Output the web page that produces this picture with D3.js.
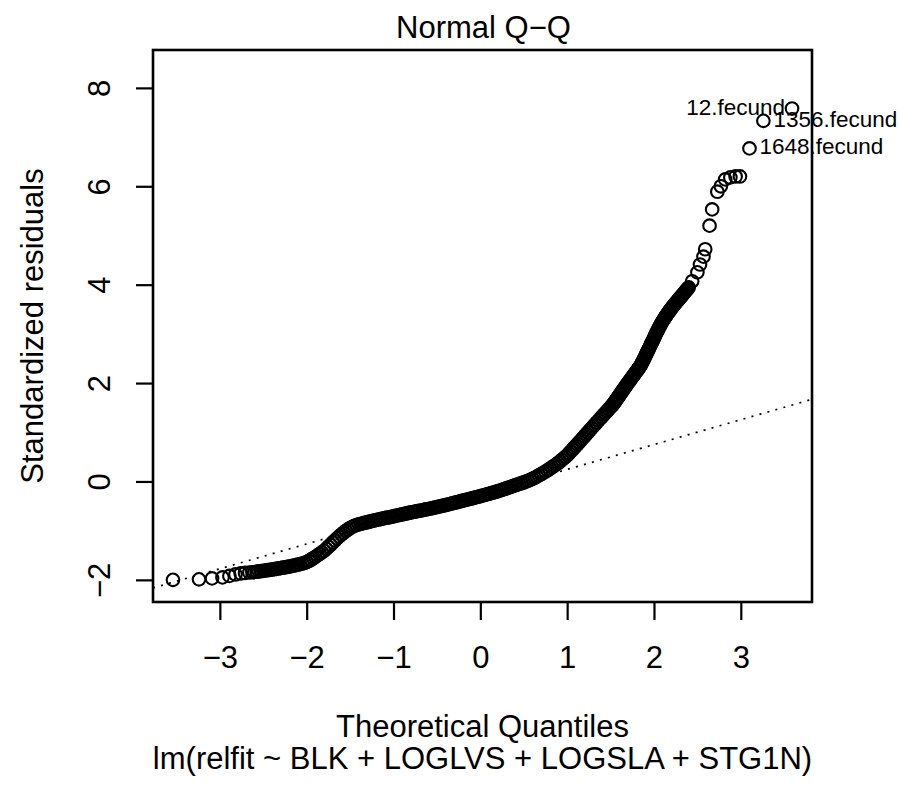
<!DOCTYPE html>
<html>
<head>
<meta charset="utf-8">
<script src="https://cdn.jsdelivr.net/npm/d3@7"></script>
<style>
  html, body { margin: 0; padding: 0; background: #fff; }
  svg text { font-family: "Liberation Sans", Arial, Helvetica, sans-serif; fill: #000; }
</style>
</head>
<body>
<div id="chart"></div>
<script>
// theoretical quantiles (x) and sorted standardized residuals (y)
const theoreticalQ = [
  -3.54, -3.24, -3.09, -2.97, -2.89, -2.82, -2.76, -2.71, -2.66, -2.625,
  -2.600, -2.575, -2.550, -2.525, -2.500, -2.475, -2.450, -2.425,
  -2.400, -2.375, -2.350, -2.325, -2.300, -2.275, -2.250, -2.225,
  -2.200, -2.175, -2.150, -2.125, -2.100, -2.075, -2.050, -2.025,
  -2.000, -1.975, -1.950, -1.925, -1.900, -1.875, -1.850, -1.825,
  -1.800, -1.775, -1.750, -1.725, -1.700, -1.675, -1.650, -1.625,
  -1.600, -1.575, -1.550, -1.525, -1.500, -1.475, -1.450, -1.425,
  -1.400, -1.375, -1.350, -1.325, -1.300, -1.275, -1.250, -1.225,
  -1.200, -1.175, -1.150, -1.125, -1.100, -1.075, -1.050, -1.025,
  -1.000, -0.975, -0.950, -0.925, -0.900, -0.875, -0.850, -0.825,
  -0.800, -0.775, -0.750, -0.725, -0.700, -0.675, -0.650, -0.625,
  -0.600, -0.575, -0.550, -0.525, -0.500, -0.475, -0.450, -0.425,
  -0.400, -0.375, -0.350, -0.325, -0.300, -0.275, -0.250, -0.225,
  -0.200, -0.175, -0.150, -0.125, -0.100, -0.075, -0.050, -0.025,
  0.000, 0.025, 0.050, 0.075, 0.100, 0.125, 0.150, 0.175,
  0.200, 0.225, 0.250, 0.275, 0.300, 0.325, 0.350, 0.375,
  0.400, 0.425, 0.450, 0.475, 0.500, 0.525, 0.550, 0.575,
  0.600, 0.625, 0.650, 0.675, 0.700, 0.725, 0.750, 0.775,
  0.800, 0.825, 0.850, 0.875, 0.900,
  0.92, 0.94, 0.96, 0.98, 1.00, 1.02, 1.04, 1.06, 1.08, 1.10,
  1.12, 1.14, 1.16, 1.18, 1.20, 1.22, 1.24, 1.26, 1.28, 1.30,
  1.32, 1.34, 1.36, 1.38, 1.40, 1.42, 1.44, 1.46, 1.48, 1.50,
  1.51, 1.52, 1.53, 1.54, 1.55, 1.56, 1.57, 1.58, 1.59, 1.60,
  1.61, 1.62, 1.63, 1.64, 1.65, 1.66, 1.67, 1.68, 1.69, 1.70,
  1.71, 1.72, 1.73, 1.74, 1.75, 1.76, 1.77, 1.78, 1.79, 1.80,
  1.81, 1.82, 1.83, 1.84, 1.85, 1.86, 1.87, 1.88, 1.89, 1.90,
  1.91, 1.92, 1.93, 1.94, 1.95, 1.96, 1.97, 1.98, 1.99, 2.00,
  2.01, 2.02, 2.03, 2.04, 2.05, 2.06, 2.07, 2.08, 2.09, 2.10,
  2.11, 2.12, 2.13, 2.14, 2.15, 2.16, 2.17, 2.18, 2.19, 2.20,
  2.21, 2.22, 2.23, 2.24, 2.25, 2.26, 2.27, 2.28, 2.29, 2.30,
  2.31, 2.32, 2.33, 2.34, 2.35, 2.36, 2.37, 2.38, 2.39, 2.40,
  2.44, 2.50, 2.53, 2.57, 2.59, 2.64, 2.67, 2.73, 2.77, 2.82, 2.88, 2.94, 2.99,
  3.10, 3.26, 3.59
];
const stdResiduals = [
  -2.00, -1.99, -1.97, -1.95, -1.92, -1.89, -1.87, -1.86, -1.85, -1.845,
  -1.840, -1.834, -1.829, -1.823, -1.817, -1.810, -1.804, -1.797,
  -1.790, -1.783, -1.775, -1.768, -1.760, -1.753, -1.745, -1.738,
  -1.730, -1.721, -1.711, -1.702, -1.691, -1.680, -1.668, -1.655,
  -1.640, -1.616, -1.590, -1.562, -1.533, -1.503, -1.472, -1.441,
  -1.410, -1.370, -1.328, -1.285, -1.242, -1.199, -1.157, -1.117,
  -1.078, -1.041, -1.007, -0.975, -0.948, -0.923, -0.902, -0.885,
  -0.871, -0.860, -0.849, -0.838, -0.828, -0.817, -0.806, -0.794,
  -0.783, -0.773, -0.764, -0.755, -0.746, -0.737, -0.728, -0.719,
  -0.710, -0.700, -0.690, -0.680, -0.670, -0.660, -0.650, -0.640,
  -0.630, -0.621, -0.613, -0.604, -0.595, -0.586, -0.578, -0.569,
  -0.560, -0.550, -0.540, -0.530, -0.520, -0.510, -0.500, -0.490,
  -0.480, -0.469, -0.458, -0.446, -0.435, -0.424, -0.413, -0.401,
  -0.390, -0.379, -0.368, -0.356, -0.345, -0.334, -0.323, -0.311,
  -0.300, -0.288, -0.275, -0.263, -0.250, -0.238, -0.225, -0.213,
  -0.200, -0.185, -0.170, -0.155, -0.140, -0.125, -0.110, -0.095,
  -0.080, -0.065, -0.050, -0.035, -0.020, -0.003, 0.015, 0.034,
  0.054, 0.076, 0.099, 0.123, 0.148, 0.174, 0.200, 0.228,
  0.258, 0.288, 0.318, 0.348, 0.380,
  0.410, 0.440, 0.470, 0.500, 0.530, 0.569, 0.607, 0.646, 0.685, 0.723,
  0.762, 0.801, 0.840, 0.880, 0.920, 0.960, 1.000, 1.040, 1.080, 1.120,
  1.159, 1.198, 1.237, 1.277, 1.316, 1.355, 1.394, 1.433, 1.472, 1.511,
  1.531, 1.550, 1.570, 1.595, 1.621, 1.646, 1.671, 1.697, 1.722, 1.747,
  1.773, 1.798, 1.823, 1.848, 1.874, 1.899, 1.924, 1.950, 1.975, 2.000,
  2.024, 2.049, 2.073, 2.097, 2.121, 2.146, 2.170, 2.194, 2.219, 2.243,
  2.267, 2.291, 2.316, 2.340, 2.372, 2.405, 2.439, 2.474, 2.510, 2.546,
  2.583, 2.620, 2.657, 2.694, 2.731, 2.768, 2.805, 2.842, 2.879, 2.916,
  2.953, 2.990, 3.027, 3.064, 3.100, 3.134, 3.167, 3.199, 3.230, 3.260,
  3.289, 3.317, 3.344, 3.370, 3.396, 3.421, 3.446, 3.470, 3.494, 3.517,
  3.540, 3.562, 3.584, 3.606, 3.628, 3.650, 3.671, 3.692, 3.713, 3.734,
  3.755, 3.776, 3.797, 3.818, 3.839, 3.860, 3.881, 3.902, 3.923, 3.944,
  4.07, 4.25, 4.41, 4.57, 4.72, 5.20, 5.53, 5.89, 6.00, 6.14, 6.18, 6.20, 6.20,
  6.77, 7.33, 7.58
];
// the three labelled points are the last three of the series
const idLabels = ['1648.fecund', '1356.fecund', '12.fecund'];
const idSides = ['right', 'right', 'left'];

const xTicks = [-3, -2, -1, 0, 1, 2, 3];
const yTicks = [-2, 0, 2, 4, 6, 8];

// dotted reference line through the quartiles
const qqIntercept = -0.26;
const qqSlope = 0.505;

const titleText = 'Normal Q\u2212Q';
const xTitle = 'Theoretical Quantiles';
const yTitle = 'Standardized residuals';
const subCaption = 'lm(relfit ~ BLK + LOGLVS + LOGSLA + STG1N)';

//----------------- Setup -----------------
let width = 899, height = 795;
let box = { left: 153, right: 812, top: 50, bottom: 602 };
let fontSize = 31;

let svg = d3.select('#chart')
    .append('svg')
    .attr('width', width)
    .attr('height', height);

let x = d3.scaleLinear().domain([-3.77, 3.82]).range([box.left, box.right]);
let y = d3.scaleLinear().domain([-2.45, 8.77]).range([box.bottom, box.top]);

let fmt = (d) => (d < 0 ? '\u2212' + Math.abs(d) : String(d));

svg.append('clipPath')
    .attr('id', 'plot-clip')
    .append('rect')
    .attr('x', box.left)
    .attr('y', box.top)
    .attr('width', box.right - box.left)
    .attr('height', box.bottom - box.top);

// reference line
let lineX = x.domain();
svg.append('line')
    .attr('clip-path', 'url(#plot-clip)')
    .attr('x1', x(lineX[0]))
    .attr('y1', y(qqIntercept + qqSlope * lineX[0]))
    .attr('x2', x(lineX[1]))
    .attr('y2', y(qqIntercept + qqSlope * lineX[1]))
    .attr('stroke', '#000')
    .attr('stroke-width', 1.7)
    .attr('stroke-dasharray', '2,6.3');

// points
let points = theoreticalQ.map((q, i) => ({ q: q, r: stdResiduals[i] }));
svg.append('g')
    .selectAll('circle')
    .data(points)
    .enter()
    .append('circle')
    .attr('cx', (d) => x(d.q))
    .attr('cy', (d) => y(d.r))
    .attr('r', 6.3)
    .attr('fill', 'none')
    .attr('stroke', '#000')
    .attr('stroke-width', 2.1);

// id labels
let labelled = points.slice(points.length - idLabels.length);
svg.append('g')
    .selectAll('text')
    .data(labelled)
    .enter()
    .append('text')
    .attr('x', (d, i) => (idSides[i] === 'left' ? x(d.q) - 7 : x(d.q) + 10))
    .attr('y', (d) => y(d.r))
    .attr('dy', '0.27em')
    .attr('text-anchor', (d, i) => (idSides[i] === 'left' ? 'end' : 'start'))
    .style('font-size', '22.5px')
    .text((d, i) => idLabels[i]);

// axes
let xAxis = svg.append('g')
    .attr('transform', `translate(0, ${box.bottom})`)
    .call(d3.axisBottom(x).tickValues(xTicks).tickSize(18).tickFormat(fmt));
xAxis.select('.domain').remove();
xAxis.selectAll('line').attr('stroke-width', 2.2);
xAxis.selectAll('text')
    .attr('y', 66)
    .attr('dy', null)
    .attr('fill', '#000')
    .style('font-size', fontSize + 'px')
    .style('font-family', '"Liberation Sans", Arial, Helvetica, sans-serif');

let yAxis = svg.append('g')
    .attr('transform', `translate(${box.left}, 0)`)
    .call(d3.axisLeft(y).tickValues(yTicks).tickSize(17).tickFormat(fmt));
yAxis.select('.domain').remove();
yAxis.selectAll('line').attr('stroke-width', 2.2);
yAxis.selectAll('text')
    .attr('x', null)
    .attr('dy', null)
    .attr('text-anchor', 'middle')
    .attr('transform', 'translate(-43, 0) rotate(-90)')
    .attr('fill', '#000')
    .style('font-size', fontSize + 'px')
    .style('font-family', '"Liberation Sans", Arial, Helvetica, sans-serif');

// frame
svg.append('rect')
    .attr('x', box.left)
    .attr('y', box.top)
    .attr('width', box.right - box.left)
    .attr('height', box.bottom - box.top)
    .attr('fill', 'none')
    .attr('stroke', '#000')
    .attr('stroke-width', 2.6);

// titles
let midX = (box.left + box.right) / 2;
svg.append('text')
    .attr('x', midX + 1)
    .attr('y', 38)
    .attr('text-anchor', 'middle')
    .style('font-size', fontSize + 'px')
    .text(titleText);

svg.append('text')
    .attr('x', midX)
    .attr('y', 737)
    .attr('text-anchor', 'middle')
    .style('font-size', fontSize + 'px')
    .text(xTitle);

svg.append('text')
    .attr('x', midX)
    .attr('y', 769)
    .attr('text-anchor', 'middle')
    .style('font-size', fontSize + 'px')
    .text(subCaption);

svg.append('text')
    .attr('transform', `translate(43, ${(box.top + box.bottom) / 2}) rotate(-90)`)
    .attr('text-anchor', 'middle')
    .style('font-size', fontSize + 'px')
    .text(yTitle);
</script>
</body>
</html>
